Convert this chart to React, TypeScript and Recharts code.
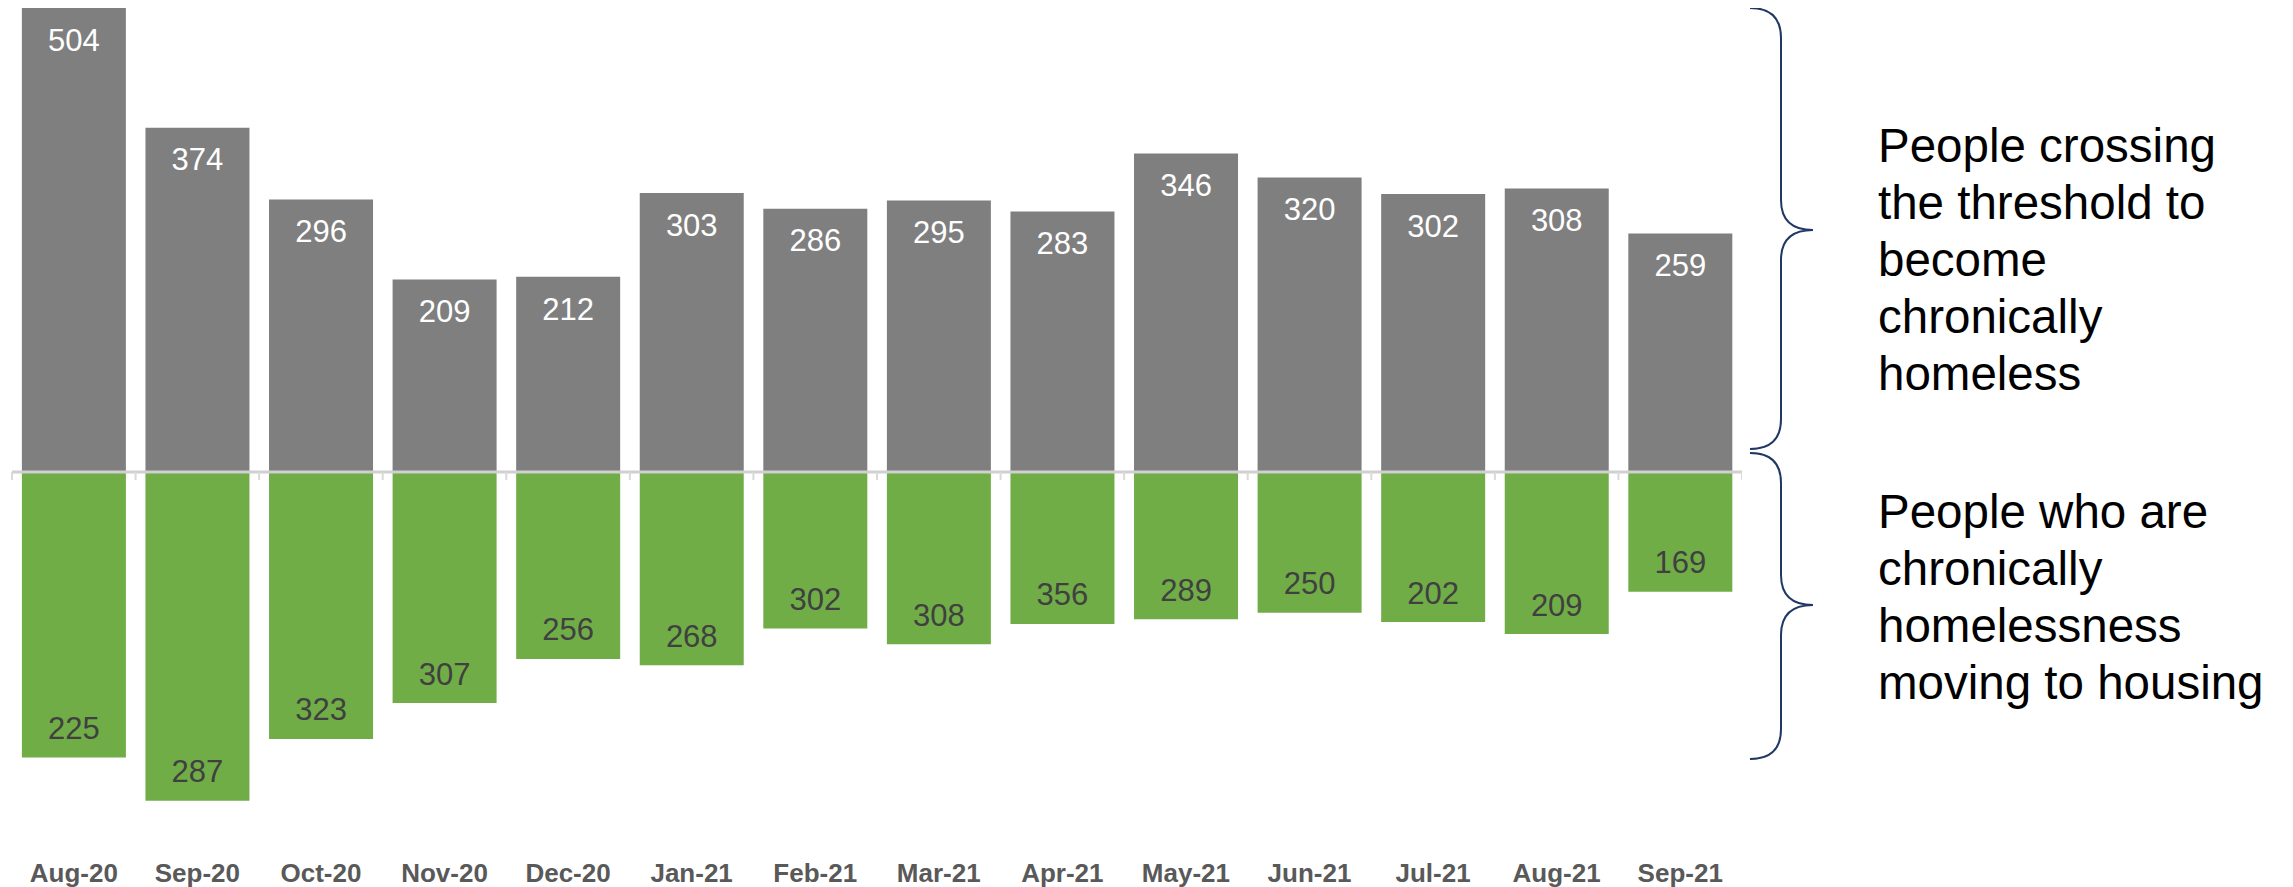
import React from 'react';
import { BarChart, Bar, XAxis, YAxis, ReferenceLine, LabelList } from 'recharts';

const months = ['Aug-20', 'Sep-20', 'Oct-20', 'Nov-20', 'Dec-20', 'Jan-21', 'Feb-21', 'Mar-21', 'Apr-21', 'May-21', 'Jun-21', 'Jul-21', 'Aug-21', 'Sep-21'];
// People crossing the threshold to become chronically homeless (grey, above the line)
const crossing = [504, 374, 296, 209, 212, 303, 286, 295, 283, 346, 320, 302, 308, 259];
// Length of the green bars as drawn in the picture
const housedBarLengths = [310, 357, 290, 251, 203, 210, 170, 187, 165, 160, 153, 163, 176, 130];
// Values printed on the green bars
const housedLabels = [225, 287, 323, 307, 256, 268, 302, 308, 356, 289, 250, 202, 209, 169];

const upperNote = ['People crossing', 'the threshold to', 'become', 'chronically', 'homeless'];
const lowerNote = ['People who are', 'chronically', 'homelessness', 'moving to housing'];

const data = months.map((m, i) => ({
  month: m,
  crossing: crossing[i],
  housed: -housedBarLengths[i],
  housedLabel: housedLabels[i],
}));

const FONT = "'Liberation Sans', Arial, sans-serif";

const GreyLabel = (p: any) => {
  const x = Number(p.x), y = Number(p.y), w = Number(p.width), h = Number(p.height);
  const top = Math.min(y, y + h);
  return (
    <text x={x + w / 2} y={top + 42.7} textAnchor="middle" fill="#FFFFFF" fontSize={31} fontFamily={FONT}>
      {p.value}
    </text>
  );
};

const GreenLabel = (p: any) => {
  const x = Number(p.x), y = Number(p.y), w = Number(p.width), h = Number(p.height);
  const bottom = Math.max(y, y + h);
  return (
    <text x={x + w / 2} y={bottom - 18.5} textAnchor="middle" fill="#404040" fontSize={31} fontFamily={FONT}>
      {p.value}
    </text>
  );
};

const MonthTick = (p: any) => (
  <text x={p.x} y={p.y} dy={33.75} textAnchor="middle" fill="#595959" fontSize={26} fontWeight="bold" fontFamily={FONT}>
    {p.payload.value}
  </text>
);

const ZeroAxis = (p: any) => {
  const x1 = Number(p.x1), x2 = Number(p.x2), y = Number(p.y1);
  const band = (x2 - x1) / months.length;
  const ticks = [];
  for (let i = 0; i <= months.length; i++) {
    const tx = x1 + i * band;
    ticks.push(<line key={i} x1={tx} x2={tx} y1={y} y2={y + 8} stroke="#D9D9D9" strokeWidth={2} />);
  }
  return (
    <g>
      <line x1={x1} x2={x2} y1={y} y2={y} stroke="#D0D0D0" strokeWidth={3} />
      {ticks}
    </g>
  );
};

const bracePath = (yT: number, yM: number, yB: number) => {
  const xL = 1750, xS = 1781, xT = 1813, r = 30;
  return `M ${xL} ${yT} Q ${xS} ${yT} ${xS} ${yT + r} L ${xS} ${yM - r} Q ${xS} ${yM} ${xT} ${yM} Q ${xS} ${yM} ${xS} ${yM + r} L ${xS} ${yB - r} Q ${xS} ${yB} ${xL} ${yB}`;
};

export default function App() {
  return (
    <div style={{ position: 'relative', width: 2277, height: 879, fontFamily: FONT }}>
      <BarChart
        width={1734}
        height={879}
        data={data}
        stackOffset="sign"
        barCategoryGap="8%"
        margin={{ top: 0, right: 0, left: 4, bottom: 0 }}
      >
        <XAxis dataKey="month" axisLine={false} tickLine={false} interval={0} height={46.75} tick={<MonthTick />} />
        <YAxis hide domain={[-400, 504]} allowDataOverflow type="number" />
        <Bar dataKey="crossing" stackId="a" fill="#7F7F7F" isAnimationActive={false}>
          <LabelList dataKey="crossing" content={<GreyLabel />} />
        </Bar>
        <Bar dataKey="housed" stackId="a" fill="#70AD47" isAnimationActive={false}>
          <LabelList dataKey="housedLabel" content={<GreenLabel />} />
        </Bar>
        <ReferenceLine y={0} shape={(props: any) => <ZeroAxis {...props} />} />
      </BarChart>
      <svg
        width={2293}
        height={887}
        style={{ position: 'absolute', left: -8, top: -8, pointerEvents: 'none' }}
      >
        <path d={bracePath(8, 230, 449)} fill="none" stroke="#203864" strokeWidth={2} />
        <path d={bracePath(453, 605, 759)} fill="none" stroke="#203864" strokeWidth={2} />
        <text x={1878} y={162} fontSize={47.5} fill="#000000" fontFamily={FONT}>
          {upperNote.map((t, i) => (
            <tspan key={i} x={1878} y={162 + i * 57}>{t}</tspan>
          ))}
        </text>
        <text x={1878} y={528} fontSize={47.5} fill="#000000" fontFamily={FONT}>
          {lowerNote.map((t, i) => (
            <tspan key={i} x={1878} y={528 + i * 57}>{t}</tspan>
          ))}
        </text>
      </svg>
    </div>
  );
}
